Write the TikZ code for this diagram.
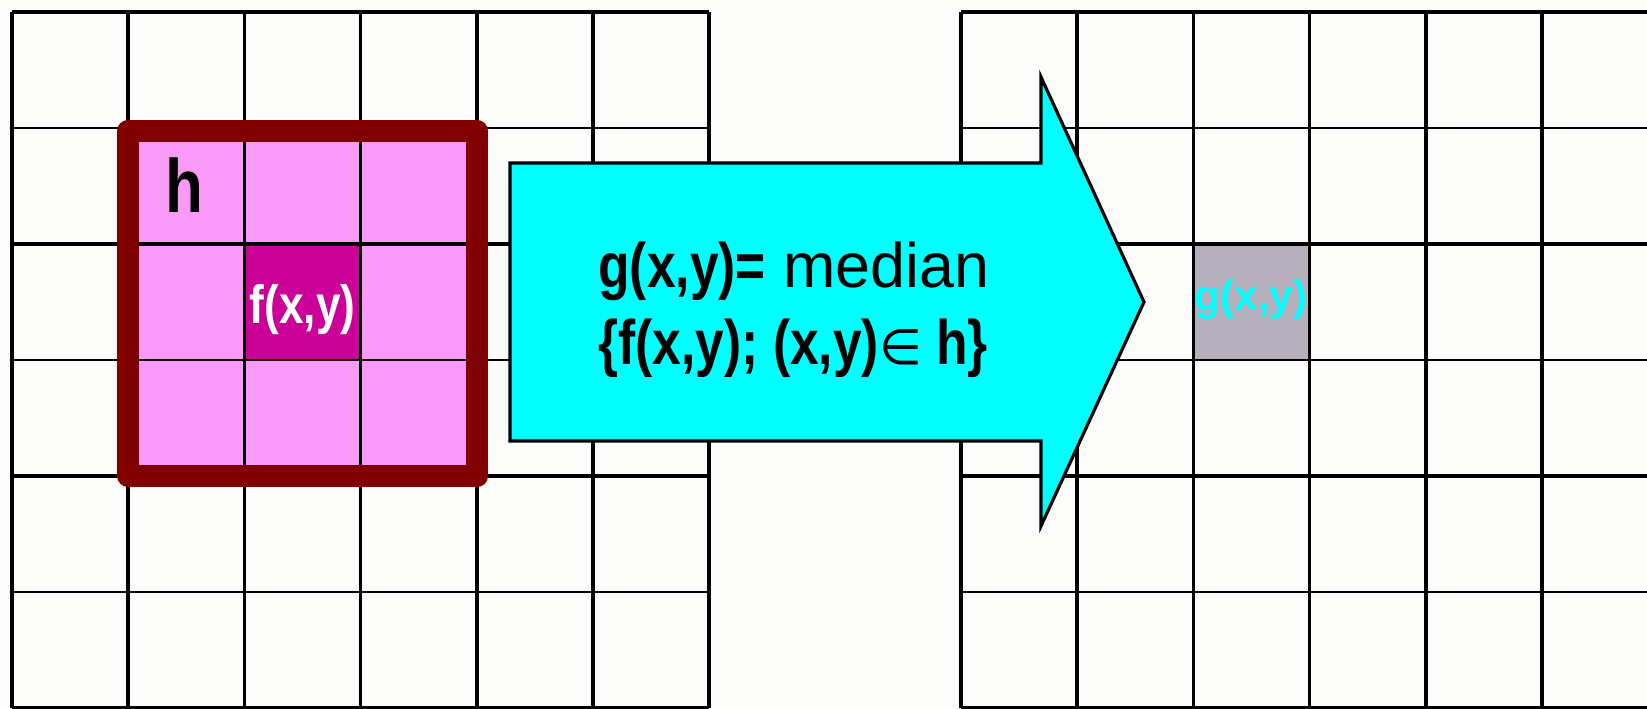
\documentclass[tikz,border=0pt]{standalone}
\usepackage{fontspec}
\setmainfont{Liberation Sans}
\newfontfamily\narrowfont{Liberation Sans}[FakeStretch=0.82]
\newfontfamily\symfont{DejaVu Sans}
\usetikzlibrary{calc}
\definecolor{paper}{HTML}{FCFDFA}
\definecolor{winpink}{HTML}{F99AF9}
\definecolor{centremag}{HTML}{CC0099}
\definecolor{framered}{HTML}{800000}
\definecolor{outgrey}{HTML}{B5B0BB}
\definecolor{flowcyan}{HTML}{00FFFF}
\tikzset{
  heavyrule/.style = {draw=black, line width=2pt},
  lightrule/.style = {draw=black, line width=1pt},
  winframe/.style  = {draw=framered, line width=12.5pt, line join=round},
  bigarrow/.style  = {draw=black, line width=1.8pt, fill=flowcyan, line join=miter},
  cellfont/.style  = {inner sep=0pt, font=\narrowfont\bfseries},
  rulefont/.style  = {inner sep=0pt, anchor=base west, font=\fontsize{35.8}{40}\selectfont},
}

\begin{document}
\begin{tikzpicture}[x=0.02cm, y=-0.02cm]
    \useasboundingbox[fill=paper] (0,0) rectangle (1647,709);

    % window h and output cell
    \fill[winpink] (128.2,131) rectangle (477.2,476);
    \fill[centremag] (244.4,244) rectangle (360.6,360);
    \fill[outgrey] (1193.4,244) rectangle (1309.6,360);

    % input image
    \foreach \k in {0,...,6}
      {\draw[heavyrule] ({12+\k*116.2},12) -- ({12+\k*116.2},708);}
    \foreach \k in {0,2,4,6}
      {\draw[heavyrule] (12,{12+\k*116}) -- (709.2,{12+\k*116});}
    \foreach \k in {1,3,5}
      {\draw[lightrule] (12,{12+\k*116}) -- (709.2,{12+\k*116});}

    % output image
    \foreach \k in {0,...,5}
      {\draw[heavyrule] ({961+\k*116.2},12) -- ({961+\k*116.2},708);}
    \foreach \k in {0,2,4,6}
      {\draw[heavyrule] (961,{12+\k*116}) -- (1652,{12+\k*116});}
    \foreach \k in {1,3,5}
      {\draw[lightrule] (961,{12+\k*116}) -- (1652,{12+\k*116});}

    \draw[winframe] (128.2,131) rectangle (477.2,476);

    \node[cellfont, anchor=base, font=\narrowfont\bfseries\fontsize{43}{45}\selectfont] (hname) at (184,213) {h};
    \node[cellfont, anchor=base, text=white, font=\narrowfont\bfseries\fontsize{30.7}{33}\selectfont] (fxy) at (302.5,324) {f(x,y)};
    \node[inner sep=0pt, anchor=base, text=flowcyan, font=\bfseries\fontsize{24.3}{26}\selectfont] (gxy) at (1251,311) {g(x,y)};

    % median filter arrow
    \draw[bigarrow] (510,163) -- (1041,163) -- (1041,77) -- (1144,302)
      -- (1041,526) -- (1041,441) -- (510,441) -- cycle;
    \node[rulefont] (ruletop) at (598,288) {{\narrowfont\bfseries g(x,y)=} median};
    \node[rulefont] (rulebot) at (598,365)
      {\narrowfont\bfseries \{f(x,y); (x,y){\symfont\mdseries\fontsize{28}{30}\selectfont ∈} h\}};
  \end{tikzpicture}
\end{document}
